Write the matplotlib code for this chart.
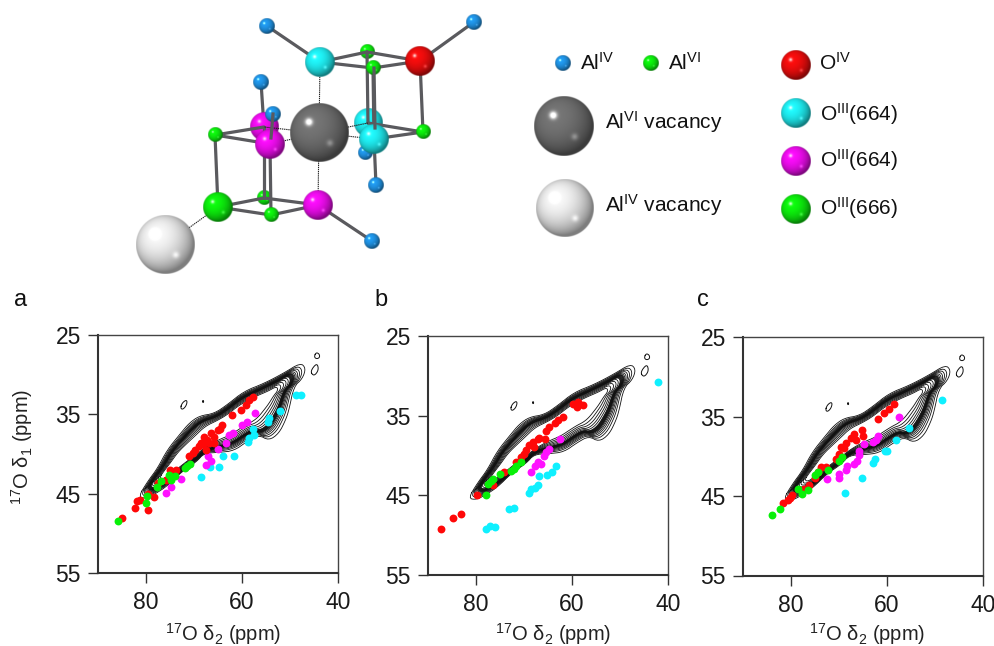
import numpy as np
import matplotlib
matplotlib.use("Agg")
import matplotlib.pyplot as plt

plt.rcParams['font.family'] = ['Liberation Sans', 'DejaVu Sans']
plt.rcParams['mathtext.fontset'] = 'custom'
plt.rcParams['mathtext.rm'] = 'Liberation Sans'
plt.rcParams['mathtext.it'] = 'Liberation Sans'
plt.rcParams['mathtext.default'] = 'rm'

W, H = 995, 646

# Panel a, (delta2, delta1) in ppm
a_red_x = [85.0, 82.3, 81.8, 81.3, 79.6, 78.3, 79.5, 77.6, 75.8, 74.9, 73.8, 71.0, 70.3, 69.7, 68.6, 67.9, 67.2, 66.5,
           65.8, 67.6, 65.1, 64.1, 62.0, 60.3, 59.2, 58.5, 57.8, 69.0, 68.2, 66.9, 65.9, 64.6]
a_red_y = [48.1, 46.8, 45.9, 45.8, 47.0, 45.4, 45.0, 43.7, 43.3, 42.0, 42.0, 40.3, 39.9, 39.5, 38.6, 37.8, 38.2, 37.4,
           38.6, 39.5, 37.0, 36.3, 35.1, 34.4, 33.8, 33.2, 32.8, 39.0, 38.8, 38.6, 37.9, 36.9]
a_green_x = [85.8, 80.1, 79.8, 77.8, 76.9, 75.3, 74.7, 74.0, 71.9, 71.5, 70.8]
a_green_y = [48.5, 46.2, 45.3, 44.2, 43.4, 42.6, 43.3, 42.8, 41.8, 41.5, 41.2]
a_magenta_x = [75.9, 74.8, 72.8, 67.6, 66.5, 67.1, 64.9, 63.4, 62.7, 61.9, 59.9, 58.9, 57.3]
a_magenta_y = [44.9, 44.1, 43.2, 41.4, 40.9, 40.3, 39.4, 38.6, 37.6, 37.4, 36.3, 36.0, 34.8]
a_cyan_x = [68.5, 66.7, 64.8, 64.0, 61.7, 58.8, 58.5, 57.4, 57.8, 54.5, 54.4, 52.0, 48.8, 47.8]
a_cyan_y = [42.9, 41.6, 41.6, 40.2, 40.2, 38.5, 38.0, 37.6, 36.8, 36.0, 35.5, 34.6, 32.6, 32.6]

# Panel b
b_red_x = [87.3, 84.7, 83.1, 79.8, 76.4, 74.1, 71.6, 70.6, 69.5, 68.9, 68.2, 67.1, 65.7, 65.4, 64.7, 62.9, 61.9, 59.8,
           58.7, 57.8, 69.9, 68.0, 66.8, 63.5, 59.0]
b_red_y = [49.3, 47.9, 47.4, 45.0, 43.7, 42.1, 40.8, 40.2, 39.3, 38.7, 38.3, 37.9, 37.9, 37.0, 36.5, 35.6, 35.2, 33.6,
           33.3, 33.7, 39.8, 38.9, 37.8, 36.0, 33.9]
b_green_x = [78.0, 77.4, 76.4, 75.0, 72.7, 71.6, 70.7, 76.9, 72.0]
b_green_y = [45.0, 43.6, 43.0, 42.3, 42.0, 41.4, 40.8, 43.3, 41.7]
b_magenta_x = [68.6, 67.8, 67.1, 66.4, 65.9, 65.5, 64.7, 62.4]
b_magenta_y = [42.1, 41.4, 40.9, 41.1, 40.1, 39.6, 39.2, 38.0]
b_cyan_x = [77.9, 77.1, 76.0, 73.2, 72.0, 68.9, 68.6, 67.8, 67.1, 66.8, 65.2, 64.1, 63.4, 42.0]
b_cyan_y = [49.3, 48.9, 49.0, 46.7, 46.6, 44.7, 44.2, 44.1, 43.7, 42.6, 42.5, 42.1, 41.4, 30.8]

# Panel c
c_red_x = [81.7, 80.7, 79.7, 77.2, 76.2, 75.1, 73.7, 72.7, 70.6, 69.5, 68.5, 67.4, 66.4, 65.3, 65.0, 61.9, 60.7, 59.6,
           58.6, 80.2, 74.4, 70.0, 68.9, 66.9]
c_red_y = [45.9, 45.5, 44.9, 44.1, 43.6, 42.7, 41.3, 41.4, 40.4, 38.8, 38.3, 37.7, 37.9, 36.7, 37.5, 35.3, 34.6, 34.0,
           33.4, 45.2, 42.0, 39.7, 38.9, 37.2]
c_green_x = [84.0, 82.3, 78.6, 77.8, 76.4, 75.1, 74.3, 72.3, 70.1, 69.4]
c_green_y = [47.4, 46.6, 44.1, 44.8, 44.2, 42.4, 42.0, 41.7, 40.6, 40.1]
c_magenta_x = [72.5, 70.1, 70.0, 68.5, 68.3, 66.8, 66.2, 65.9, 64.7, 63.0, 62.3, 61.8, 57.5, 65.8]
c_magenta_y = [42.8, 42.7, 42.2, 41.7, 41.2, 41.0, 40.6, 39.4, 38.5, 38.2, 38.0, 37.5, 35.0, 39.9]
c_cyan_x = [68.8, 65.2, 62.9, 62.6, 60.5, 60.1, 58.1, 55.5, 48.6]
c_cyan_y = [44.6, 42.7, 40.8, 40.3, 39.4, 39.4, 37.9, 36.4, 32.9]

# Contours: outermost level and the innermost ridge
outer_x = [81.6, 79.7, 77.6, 75.6, 72.8, 71.0, 68.9, 65.8, 63.1, 59.6, 55.4, 51.3, 47.8, 46.7, 47.4,
           49.2, 50.2, 50.9, 52.3, 54.4, 56.5, 58.9, 61.7, 64.8, 67.9, 69.5, 72.5, 75.5, 78.0, 80.0]
outer_y = [45.4, 43.5, 41.8, 39.5, 37.4, 36.1, 35.2, 34.9, 33.8, 32.1, 31.1, 29.8, 28.5, 29.2, 30.5,
           31.5, 34.4, 35.7, 37.4, 38.3, 37.6, 38.4, 39.6, 39.8, 39.9, 41.0, 42.2, 44.0, 45.0, 45.6]
inner_x = [76.5, 75.8, 74.5, 73.0, 71.0, 69.5, 67.5, 65.0, 63.0, 60.5, 57.5, 55.0, 53.8, 53.4, 53.5,
           54.0, 55.0, 56.0, 57.2, 58.2, 59.2, 60.5, 62.5, 65.0, 67.5, 69.5, 71.5, 73.5, 75.0, 76.0]
inner_y = [42.6, 42.0, 41.0, 39.8, 38.7, 37.9, 36.7, 35.9, 35.2, 34.0, 33.0, 32.4, 32.0, 32.1, 32.4,
           32.8, 33.5, 34.2, 35.0, 35.5, 36.0, 36.5, 37.3, 38.0, 39.0, 39.9, 40.8, 41.7, 42.4, 42.8]
islands = [
    ([72.8, 72.5, 71.7, 71.4, 71.7, 72.4], [34.2, 33.6, 33.2, 33.4, 34.0, 34.4]),
    ([44.9, 44.5, 43.9, 43.8, 44.3, 44.8], [27.6, 27.2, 27.4, 27.8, 28.0, 27.9]),
    ([45.8, 45.0, 44.0, 44.4], [29.6, 30.2, 29.4, 28.5]),
    ([68.2, 68.0, 68.0, 68.2], [33.3, 33.3, 33.5, 33.5]),
]

# Molecule, in image pixels
al4_x = [267, 474, 261, 273, 365, 376, 372]
al4_y = [26, 22, 82, 114, 153, 185, 241]
al6_x = [367, 373, 423, 215, 264, 271]
al6_y = [52, 68, 132, 135, 198, 215]


def smooth(x, y, n=2):
    # corner cutting on a closed ring
    p = np.column_stack([x, y])
    for i in range(n):
        q = np.roll(p, -1, axis=0)
        p = np.column_stack([0.75 * p + 0.25 * q, 0.25 * p + 0.75 * q]).reshape(-1, 2)
    p = np.vstack([p, p[:1]])
    return p[:, 0], p[:, 1]


def sphere(ax, cx, cy, r, color, z=3):
    n = int(r * 6)
    v, u = np.mgrid[-1:1:n * 1j, -1:1:n * 1j]
    rr = u ** 2 + v ** 2
    nz = np.sqrt(np.clip(1 - rr, 0, 1))
    light = np.array([-0.3, -0.35, 0.88])
    diff = np.clip(u * light[0] + v * light[1] + nz * light[2], 0, 1)
    shade = 0.55 + 0.55 * diff
    spec1 = 0.8 * np.exp(-((u + 0.36) ** 2 + (v + 0.36) ** 2) / 0.014)
    spec2 = 0.22 * np.exp(-((u - 0.36) ** 2 + (v - 0.36) ** 2) / 0.012)
    rgb = np.array(matplotlib.colors.to_rgb(color))[None, None, :] * shade[..., None]
    rgb = rgb + (spec1 + spec2)[..., None]
    alpha = np.clip((1 - np.sqrt(rr)) * r + 0.5, 0, 1)
    img = np.dstack([np.clip(rgb, 0, 1), alpha])
    ax.imshow(img, extent=(cx - r, cx + r, cy + r, cy - r), aspect='auto', interpolation='bilinear', zorder=z)


def bond(ax, p, q, z=2):
    ax.plot([p[0], q[0]], [p[1], q[1]], color='#5a5a5e', lw=2.3, zorder=z, solid_capstyle='round')


def dashed(ax, p, q):
    ax.plot([p[0], q[0]], [p[1], q[1]], color='#222222', lw=0.8, ls=(0, (1.2, 0.7)), zorder=2.5)


fig = plt.figure(figsize=(W / 100, H / 100), dpi=100)

# top part: cluster and key
top = fig.add_axes([0, 0, 1, 1])
top.set_xlim(0, W)
top.set_ylim(H, 0)
top.set_autoscale_on(False)
top.axis('off')

BLUE = '#1f90e0'
GREEN = '#0ce80c'
CYAN = '#1ee6ea'
MAG = '#e80ce8'
RED = '#e80c0c'
DARK = '#6c6c6c'
LIGHT = '#e4e4e4'

cyan_top, cyan_back, cyan_front = (320, 62), (368, 123), (374, 139)
red_o = (420, 61)
mag_back, mag_front, mag_low = (264, 127), (270, 144), (318, 205)
green_o = (218, 207)
vac6 = (319, 133)
vac4 = (165, 245)

for b in [((267, 26), cyan_top), ((474, 22), red_o), ((261, 82), mag_back), ((372, 241), mag_low),
          ((376, 185), cyan_front), ((365, 153), cyan_back)]:
    bond(top, b[0], b[1])

sphere(top, 365, 153, 7.5, BLUE, z=2.2)
sphere(top, cyan_back[0], cyan_back[1], 14.5, CYAN, z=2.2)
sphere(top, mag_back[0], mag_back[1], 14.5, MAG, z=2.2)
sphere(top, 367, 52, 7.5, GREEN, z=2.2)
sphere(top, 264, 198, 7.5, GREEN, z=2.2)

for b in [(cyan_top, (367, 52)), ((367, 52), red_o), (red_o, (373, 68)), ((373, 68), cyan_top),
          ((367, 52), cyan_back), ((373, 68), cyan_front), (red_o, (423, 132)),
          (cyan_back, (423, 132)), ((423, 132), cyan_front),
          ((215, 135), mag_back), ((215, 135), mag_front), ((215, 135), green_o),
          (mag_back, (264, 198)), (mag_front, (271, 215)),
          (green_o, (264, 198)), ((264, 198), mag_low), (mag_low, (271, 215)), ((271, 215), green_o)]:
    bond(top, b[0], b[1], z=2.4)

for q in [cyan_top, mag_low, mag_back, mag_front, cyan_back, cyan_front, green_o]:
    p = vac4 if q == green_o else vac6
    dashed(top, p, q)

for i in [0, 1, 2, 3, 5, 6]:
    sphere(top, al4_x[i], al4_y[i], 7.7, BLUE)
for i in [1, 2, 3, 5]:
    sphere(top, al6_x[i], al6_y[i], 7.3, GREEN)
sphere(top, cyan_top[0], cyan_top[1], 14.7, CYAN)
sphere(top, cyan_front[0], cyan_front[1], 14.7, CYAN)
sphere(top, red_o[0], red_o[1], 14.7, RED)
sphere(top, mag_front[0], mag_front[1], 14.7, MAG)
sphere(top, mag_low[0], mag_low[1], 14.7, MAG)
sphere(top, green_o[0], green_o[1], 14.7, GREEN)
sphere(top, vac6[0], vac6[1], 29.5, DARK)
sphere(top, vac4[0], vac4[1], 29.5, LIGHT)
top.plot([273, 271], [114, 138], color='#5a5a5e', lw=2.3, zorder=3.5)
top.plot([374, 375], [68, 128], color='#5a5a5e', lw=2.3, zorder=3.5)

# key
sphere(top, 563, 63, 8, BLUE)
sphere(top, 651, 63, 8, GREEN)
sphere(top, 564, 126, 30, DARK)
sphere(top, 565, 208, 29, LIGHT)
sphere(top, 796, 65, 15, RED)
sphere(top, 796, 113, 15, CYAN)
sphere(top, 796, 161, 15, MAG)
sphere(top, 796, 209, 15, GREEN)

key_labels = [(580, 63, 'Al$^{IV}$'), (668, 63, 'Al$^{VI}$'), (605, 122, 'Al$^{VI}$ vacancy'),
              (605, 205, 'Al$^{IV}$ vacancy'), (819, 63, 'O$^{IV}$'), (820, 114, 'O$^{III}$(664)'),
              (820, 160, 'O$^{III}$(664)'), (820, 208, 'O$^{III}$(666)')]
for x, y, s in key_labels:
    top.text(x, y, s, fontsize=15, va='center', ha='left', color='#111111')

# spectra
panels = [
    (98, 338, 335, 573, a_red_x, a_red_y, a_green_x, a_green_y, a_magenta_x, a_magenta_y, a_cyan_x, a_cyan_y),
    (428, 668, 336, 574.5, b_red_x, b_red_y, b_green_x, b_green_y, b_magenta_x, b_magenta_y, b_cyan_x, b_cyan_y),
    (743, 983, 337, 575.5, c_red_x, c_red_y, c_green_x, c_green_y, c_magenta_x, c_magenta_y, c_cyan_x, c_cyan_y),
]
levels = np.concatenate([[0, 0.1, 0.17, 0.23, 0.28, 0.32], np.linspace(0.35, 0.47, 9), [0.53, 0.6, 0.68, 0.77, 0.87]])

for left, right, ytop, ybot, rx, ry, gx, gy, mx, my, cx, cy in panels:
    ax = fig.add_axes([left / W, 1 - ybot / H, (right - left) / W, (ybot - ytop) / H])
    ax.set_xlim(90, 40)
    ax.set_ylim(55, 25)
    ax.set_xticks([80, 60, 40])
    ax.set_yticks([25, 35, 45, 55])
    ax.tick_params(length=7.2, width=1.0, color='#333333', labelsize=16.5, pad=5, labelcolor='#1a1a1a')
    ax.tick_params(axis='x', pad=6)
    for side in ['left', 'bottom']:
        ax.spines[side].set_linewidth(1.5)
        ax.spines[side].set_color('#333333')
    for side in ['top', 'right']:
        ax.spines[side].set_linewidth(1.0)
        ax.spines[side].set_color('#444444')

    for t in levels:
        xs = (1 - t) * np.array(outer_x) + t * np.array(inner_x)
        ys = (1 - t) * np.array(outer_y) + t * np.array(inner_y)
        sx, sy = smooth(xs, ys)
        ax.plot(sx, sy, color='#111111', lw=0.6, zorder=2)
    for ix, iy in islands:
        sx, sy = smooth(ix, iy)
        ax.plot(sx, sy, color='#111111', lw=0.7, zorder=2)

    ax.scatter(cx, cy, s=32, c='#0ff0ff', linewidths=0, zorder=3)
    ax.scatter(mx, my, s=32, c='#ff10ff', linewidths=0, zorder=4)
    ax.scatter(rx, ry, s=32, c='#ff0808', linewidths=0, zorder=5)
    ax.scatter(gx, gy, s=32, c='#08f008', linewidths=0, zorder=6)

# panel text
for x, s in [(21, 'a'), (381, 'b'), (703, 'c')]:
    fig.text(x / W, 1 - 300 / H, s, fontsize=17, ha='center', va='center', color='#111111')
for x in [223, 553, 867]:
    fig.text(x / W, 1 - 634 / H, '$^{17}$O δ$_{2}$ (ppm)', fontsize=14.5, ha='center', va='center', color='#222222')
fig.text(22 / W, 1 - 447 / H, '$^{17}$O δ$_{1}$ (ppm)', fontsize=14.5, ha='center', va='center', rotation=90,
         color='#222222')

fig.savefig("out.png", dpi=100)
